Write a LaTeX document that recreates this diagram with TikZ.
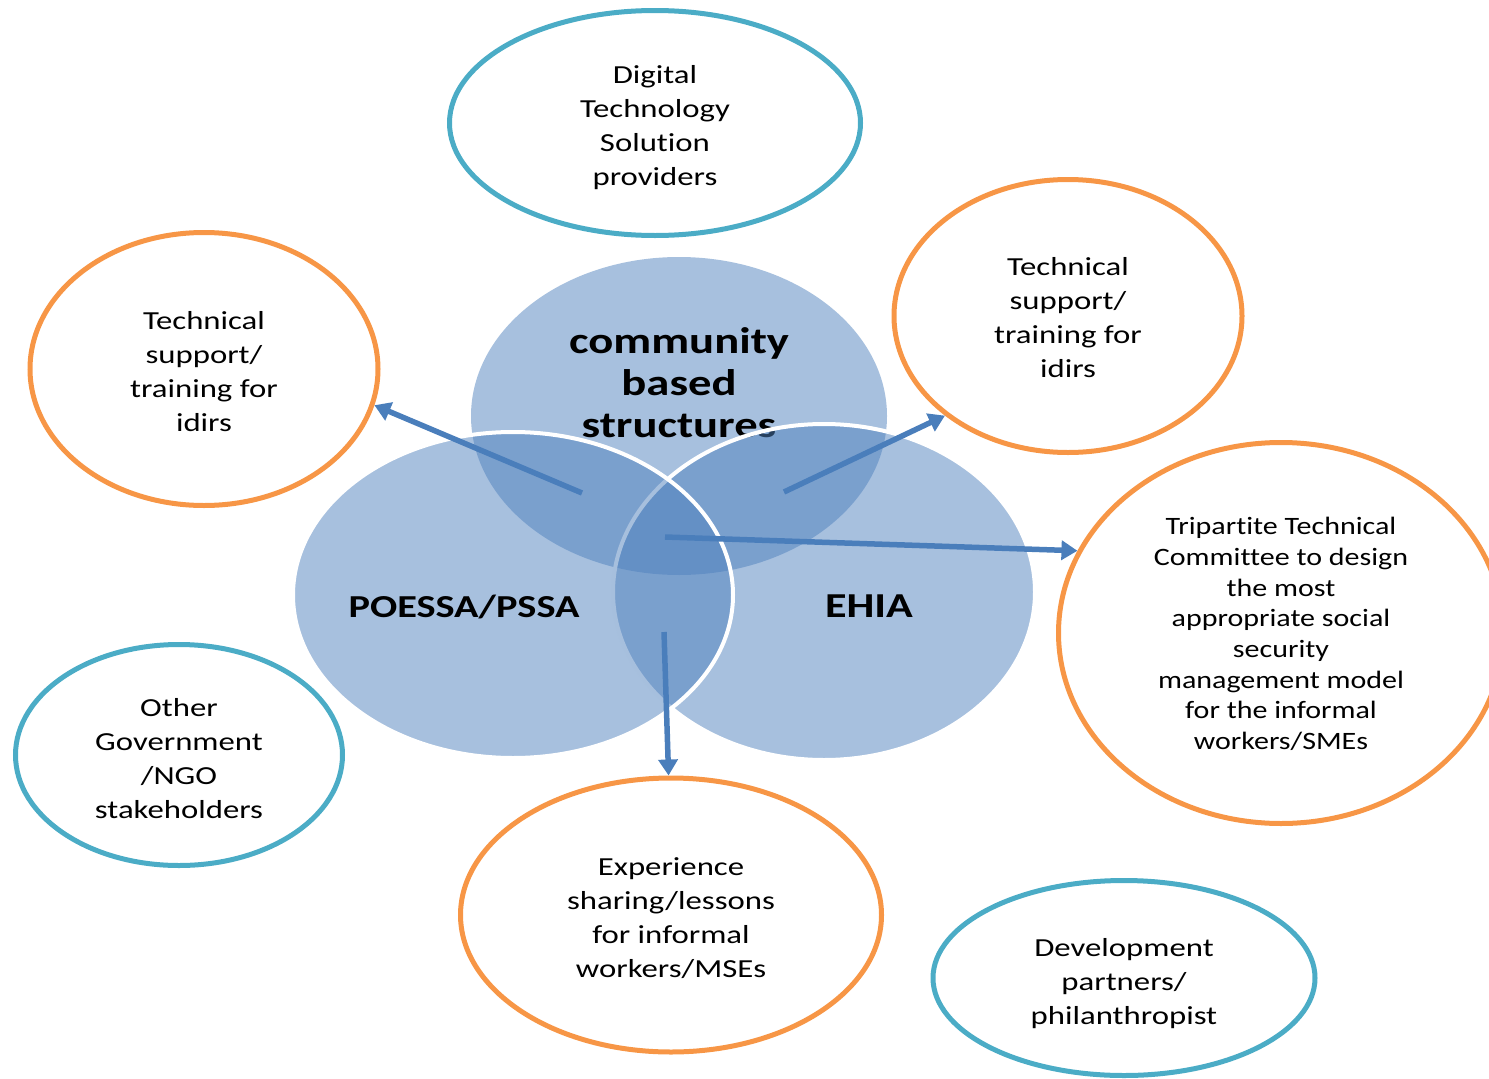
\documentclass[tikz,border=0pt]{standalone}
\usepackage{fontspec}
\setmainfont{Carlito}[FakeStretch=1.26, Ligatures=NoCommon]
\newfontfamily\tripfont{Carlito}[FakeStretch=1.2, Ligatures=NoCommon]
\usetikzlibrary{arrows.meta,shapes.geometric}

\definecolor{ringTeal}{HTML}{4BACC6}
\definecolor{ringOrange}{HTML}{F79646}
\definecolor{vennBlue}{HTML}{4F81BD}
\definecolor{arrowBlue}{HTML}{4A7EBB}

\tikzset{
  ring/.style={ellipse, draw=#1, line width=5pt, inner sep=0pt},
  ringtext/.style={align=center, inner sep=0pt, font=\fontsize{26}{34}\selectfont},
  venn/.style={ellipse, fill=vennBlue, fill opacity=0.5, inner sep=0pt},
  vennedge/.style={venn, draw=white, draw opacity=1, line width=4pt},
  vennlabel/.style={align=center, font=\bfseries\fontsize{#1}{42}\selectfont},
  link/.style={draw=arrowBlue, line width=5.5pt,
    -{Triangle[length=16pt,width=19pt]}}
}

\begin{document}
\begin{tikzpicture}[x=1pt,y=-1pt]
\useasboundingbox (0,0) rectangle (1489,1079);

% three overlapping partner circles
\node[venn, minimum width=416pt, minimum height=318pt] (cbs) at (679,416) {};
\node[vennlabel=37] (cbsT) at (679,383) {community\\based\\structures};
\node[vennedge, minimum width=422pt, minimum height=336pt] (ehia) at (824,592) {};
\node[vennedge, minimum width=440pt, minimum height=326pt] (poessa) at (513,595) {};
\node[vennlabel=32] (poessaT) at (464,607) {POESSA/PSSA};
\node[vennlabel=35] (ehiaT) at (869,606) {EHIA};

% surrounding stakeholders and activities
\node[ring=ringTeal, minimum width=411pt, minimum height=225pt] (dig) at (655,123) {};
\node[ringtext] (digT) at (655,128) {Digital\\Technology\\Solution\\providers};

\node[ring=ringOrange, minimum width=348pt, minimum height=273pt] (lt) at (204,369) {};
\node[ringtext] (ltT) at (204,372) {Technical\\support/\\training for\\idirs};

\node[ring=ringOrange, minimum width=348pt, minimum height=273pt] (rt) at (1068,316) {};
\node[ringtext] (rtT) at (1068,318) {Technical\\support/\\training for\\idirs};

\node[ring=ringOrange, minimum width=445pt, minimum height=381pt] (tri) at (1281,633) {};
\node[ringtext, font=\tripfont\fontsize{25}{30.7}\selectfont] (triT) at (1281,634)
  {Tripartite Technical\\Committee to design\\the most\\appropriate social\\security\\management model\\for the informal\\workers/SMEs};

\node[ring=ringTeal, minimum width=327pt, minimum height=221pt] (og) at (179,755) {};
\node[ringtext] (ogT) at (179,759) {Other\\Government\\/NGO\\stakeholders};

\node[ring=ringOrange, minimum width=421pt, minimum height=274pt] (ex) at (671,915) {};
\node[ringtext] (exT) at (671,918) {Experience\\sharing/lessons\\for informal\\workers/MSEs};

\node[ring=ringTeal, minimum width=382pt, minimum height=195pt] (dev) at (1124,978) {};
\node[ringtext] (devT) at (1124,984) {Development\\partners/\\philanthropist};

% arrow origins inside the overlaps
\coordinate (s1) at (582,493);
\coordinate (s2) at (784,492);
\coordinate (s3) at (665,537);
\coordinate (s4) at (664,632);

\draw[link] (s1) -- (lt.-12.5);
\draw[link] (s2) -- (rt.219);
\draw[link] (s3) -- (tri.158);
\draw[link] (s4) -- (ex.91.6);
\end{tikzpicture}
\end{document}
